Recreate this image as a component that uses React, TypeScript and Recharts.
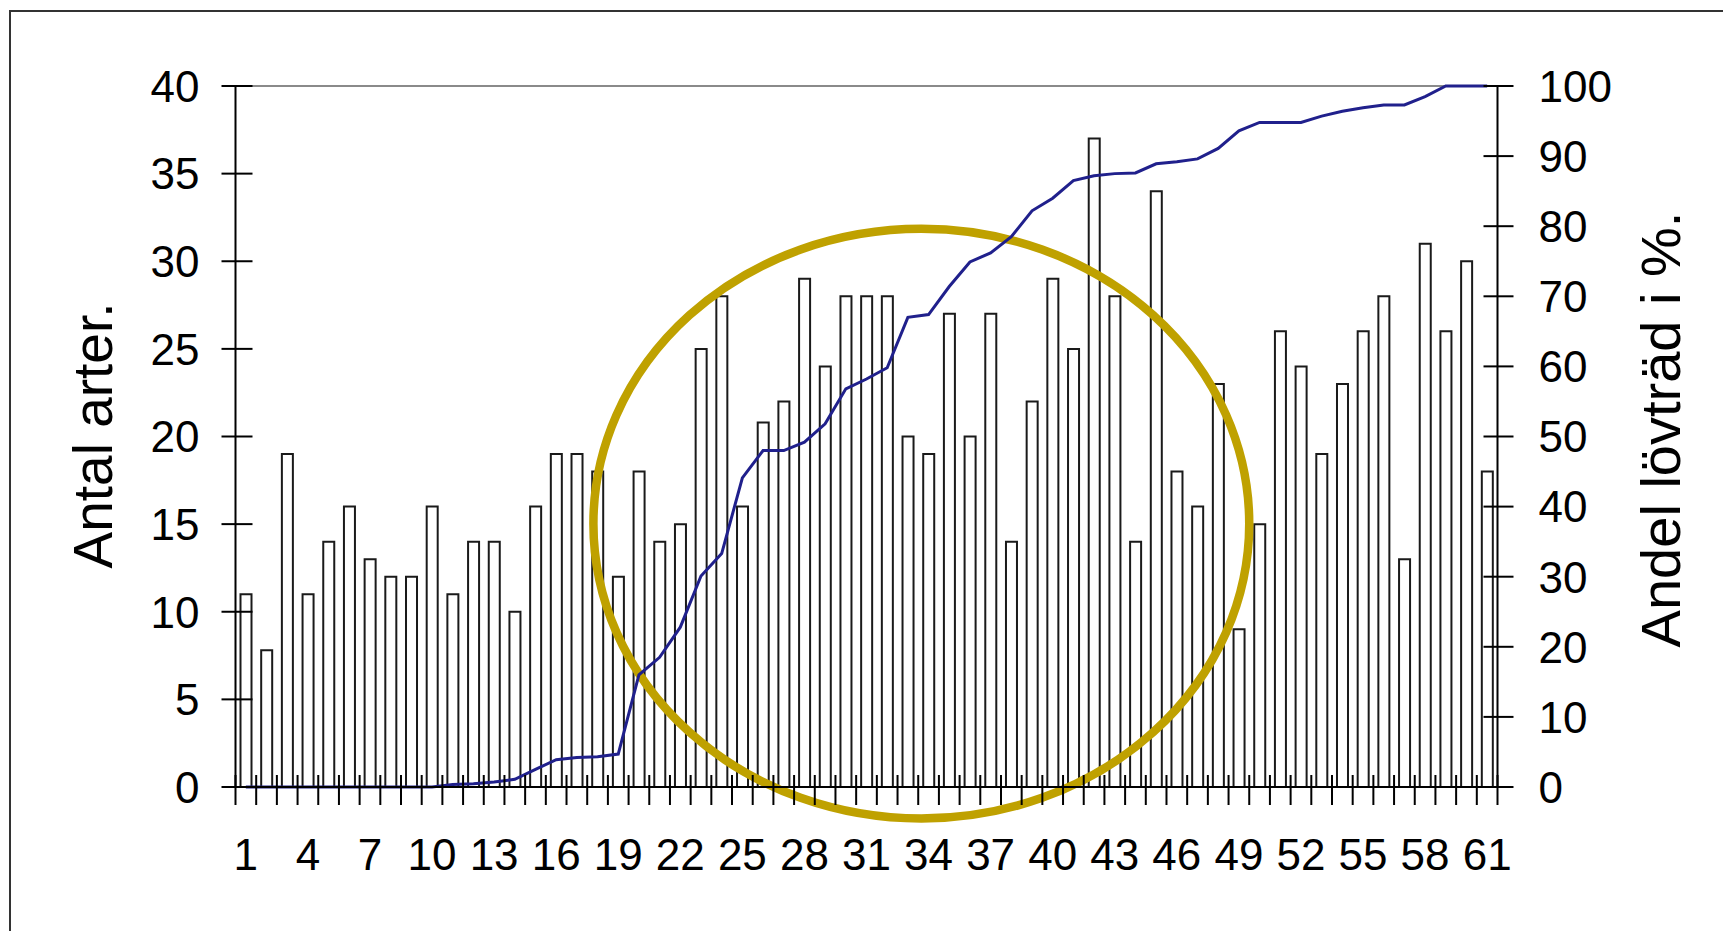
import {
  ComposedChart,
  Bar,
  Line,
  XAxis,
  YAxis,
  ReferenceLine,
  ReferenceArea,
} from 'recharts'

// provytor 1..61
const plots = [
  '1', '2', '3', '4', '5', '6', '7', '8', '9', '10',
  '11', '12', '13', '14', '15', '16', '17', '18', '19', '20',
  '21', '22', '23', '24', '25', '26', '27', '28', '29', '30',
  '31', '32', '33', '34', '35', '36', '37', '38', '39', '40',
  '41', '42', '43', '44', '45', '46', '47', '48', '49', '50',
  '51', '52', '53', '54', '55', '56', '57', '58', '59', '60',
  '61',
]

// antal arter per provyta (vänster axel)
const antalArter = [
  11, 7.8, 19, 11, 14, 16, 13, 12, 12, 16,
  11, 14, 14, 10, 16, 19, 19, 18, 12, 18,
  14, 15, 25, 28, 16, 20.8, 22, 29, 24, 28,
  28, 28, 20, 19, 27, 20, 27, 14, 22, 29,
  25, 37, 28, 14, 34, 18, 16, 23, 9, 15,
  26, 24, 19, 23, 26, 28, 13, 31, 26, 30,
  18,
]

// andel lövträd i % (höger axel)
const andelLovtrad = [
  0, 0, 0, 0, 0, 0, 0, 0, 0, 0,
  0.35, 0.45, 0.7, 1.1, 2.5, 3.9, 4.2, 4.3, 4.7, 16,
  18.5, 22.8, 30.1, 33.3, 44.1, 48, 48, 49.2, 51.8, 56.8,
  58.2, 59.8, 67, 67.4, 71.4, 74.9, 76.2, 78.5, 82.2, 84,
  86.5, 87.2, 87.5, 87.6, 88.9, 89.2, 89.6, 91.1, 93.6, 94.8,
  94.8, 94.8, 95.7, 96.4, 96.9, 97.3, 97.3, 98.5, 100, 100,
  100,
]

const labeledPlots = ['1', '4', '7', '10', '13', '16', '19', '22', '25', '28', '31', '34', '37', '40', '43', '46', '49', '52', '55', '58', '61']
const leftTicks = [0, 5, 10, 15, 20, 25, 30, 35, 40]
const rightTicks = [0, 10, 20, 30, 40, 50, 60, 70, 80, 90, 100]

// markeringen (ellipsen), i provyte-position resp. antal arter
const ring = { x1: 17.3, x2: 49, y1: -1.8, y2: 31.85 }

const W = 1723
const H = 931
const LEFT_W = 235.5
const RIGHT_W = 225.5
const TOP = 86
const X_H = 144
const BAND = (W - LEFT_W - RIGHT_W) / plots.length
const FONT = '"Liberation Sans", Arial, sans-serif'
const TICK_FONT = 44

const data = plots.map((p, i) => ({
  plot: p,
  pos: i + 0.5,
  arter: antalArter[i],
  andel: andelLovtrad[i],
}))

const PlotTick = (props: any) => {
  const { x, y, payload } = props
  const last = payload.value === plots[plots.length - 1]
  return (
    <g>
      <line x1={x - BAND / 2} x2={x - BAND / 2} y1={y - 12} y2={y + 18} stroke="#000" strokeWidth={2} />
      {last && <line x1={x + BAND / 2} x2={x + BAND / 2} y1={y - 12} y2={y + 18} stroke="#000" strokeWidth={2} />}
      {labeledPlots.includes(payload.value) && (
        <text x={x} y={y + 83} textAnchor="middle" fontSize={TICK_FONT} fontFamily={FONT} fill="#000">
          {payload.value}
        </text>
      )}
    </g>
  )
}

const LeftTick = (props: any) => {
  const { x, y, payload } = props
  return (
    <g>
      <line x1={x - 14} x2={x + 17} y1={y} y2={y} stroke="#000" strokeWidth={2} />
      <text x={x - 36} y={y} dy="0.36em" textAnchor="end" fontSize={TICK_FONT} fontFamily={FONT} fill="#000">
        {payload.value}
      </text>
    </g>
  )
}

const RightTick = (props: any) => {
  const { x, y, payload } = props
  return (
    <g>
      <line x1={x - 14} x2={x + 16} y1={y} y2={y} stroke="#000" strokeWidth={2} />
      <text x={x + 41} y={y} dy="0.36em" textAnchor="start" fontSize={TICK_FONT} fontFamily={FONT} fill="#000">
        {payload.value}
      </text>
    </g>
  )
}

const leftTitle = (props: any) => {
  const vb = props.viewBox
  const cx = vb.x + 112
  const cy = vb.y + vb.height / 2 - 1
  return (
    <text x={cx} y={cy} transform={`rotate(-90, ${cx}, ${cy})`} textAnchor="middle" fontSize={55} fontFamily={FONT} fill="#000">
      Antal arter.
    </text>
  )
}

const rightTitle = (props: any) => {
  const vb = props.viewBox
  const cx = vb.x + 182
  const cy = vb.y + vb.height / 2 - 7
  return (
    <text x={cx} y={cy} transform={`rotate(-90, ${cx}, ${cy})`} textAnchor="middle" fontSize={56} fontFamily={FONT} fill="#000">
      Andel lövträd i %.
    </text>
  )
}

const RingShape = (props: any) => {
  const { x, y, width, height } = props
  return (
    <ellipse
      cx={x + width / 2}
      cy={y + height / 2}
      rx={Math.abs(width) / 2}
      ry={Math.abs(height) / 2}
      fill="none"
      stroke="#BFA100"
      strokeWidth={8.5}
    />
  )
}

export default function App() {
  return (
    <div style={{ position: 'absolute', left: 0, top: 0, width: W, height: H, overflow: 'hidden', background: '#fff' }}>
      <div
        style={{
          position: 'absolute',
          left: 9,
          top: 10,
          width: W - 9,
          height: H - 10,
          boxSizing: 'border-box',
          borderLeft: '2px solid #333',
          borderTop: '2px solid #333',
        }}
      />
      <div style={{ position: 'absolute', left: 0, top: 0 }}>
        <ComposedChart width={W} height={H} data={data} margin={{ top: TOP, right: 0, bottom: 0, left: 0 }}>
          <XAxis
            xAxisId="plot"
            dataKey="plot"
            height={X_H}
            interval={0}
            tickSize={0}
            tickMargin={0}
            tickLine={false}
            axisLine={{ stroke: '#000', strokeWidth: 2 }}
            tick={PlotTick}
          />
          <XAxis xAxisId="pos" dataKey="pos" type="number" domain={[0, 61]} hide />
          <YAxis
            yAxisId="left"
            orientation="left"
            width={LEFT_W}
            domain={[0, 40]}
            ticks={leftTicks}
            interval={0}
            tickSize={0}
            tickMargin={0}
            tickLine={false}
            axisLine={{ stroke: '#000', strokeWidth: 2 }}
            tick={LeftTick}
            label={leftTitle}
          />
          <YAxis
            yAxisId="right"
            orientation="right"
            width={RIGHT_W}
            domain={[0, 100]}
            ticks={rightTicks}
            interval={0}
            tickSize={0}
            tickMargin={0}
            tickLine={false}
            axisLine={{ stroke: '#000', strokeWidth: 2 }}
            tick={RightTick}
            label={rightTitle}
          />
          <ReferenceLine xAxisId="plot" yAxisId="left" y={40} stroke="#8a8a8a" strokeWidth={2} />
          <Bar
            xAxisId="plot"
            yAxisId="left"
            dataKey="arter"
            fill="none"
            stroke="#1a1a1a"
            strokeWidth={2}
            barSize={11}
            isAnimationActive={false}
          />
          <ReferenceArea
            xAxisId="pos"
            yAxisId="left"
            x1={ring.x1}
            x2={ring.x2}
            y1={ring.y1}
            y2={ring.y2}
            ifOverflow="visible"
            zIndex={350}
            shape={RingShape}
          />
          <Line
            xAxisId="plot"
            yAxisId="right"
            dataKey="andel"
            type="linear"
            stroke="#20208C"
            strokeWidth={3}
            dot={false}
            isAnimationActive={false}
          />
        </ComposedChart>
      </div>
    </div>
  )
}
